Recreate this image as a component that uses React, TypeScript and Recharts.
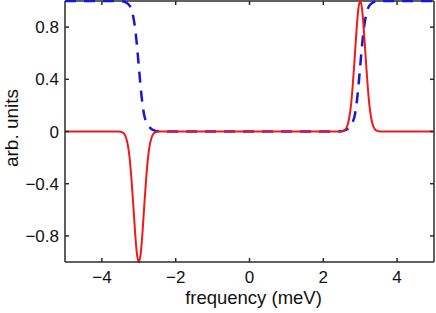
import React from 'react';
import { LineChart, Line, XAxis, YAxis, Label, ReferenceLine } from 'recharts';

const xValues = [
  -5, -4.5, -4, -3.7, -3.6, -3.55, -3.5, -3.45, -3.4, -3.35, -3.3, -3.25, -3.2, -3.15, -3.1, -3.05,
  -3, -2.95, -2.9, -2.85, -2.8, -2.75, -2.7, -2.65, -2.6, -2.55, -2.5, -2.45, -2.4, -2.3, -2, -1,
  0, 1, 2, 2.3, 2.4, 2.45, 2.5, 2.55, 2.6, 2.65, 2.7, 2.75, 2.8, 2.85, 2.9, 2.95,
  3, 3.05, 3.1, 3.15, 3.2, 3.25, 3.3, 3.35, 3.4, 3.45, 3.5, 3.55, 3.6, 3.7, 4, 4.5, 5,
];

const redValues = [
  0, 0, 0, 0, 0, 0, -0.002, -0.006, -0.017, -0.044, -0.1, -0.2, -0.36, -0.56, -0.775, -0.94,
  -1, -0.94, -0.775, -0.56, -0.36, -0.2, -0.1, -0.044, -0.017, -0.006, -0.002, 0, 0, 0, 0, 0,
  0, 0, 0, 0, 0, 0, 0.002, 0.006, 0.017, 0.044, 0.1, 0.2, 0.36, 0.56, 0.775, 0.94,
  1, 0.94, 0.775, 0.56, 0.36, 0.2, 0.1, 0.044, 0.017, 0.006, 0.002, 0, 0, 0, 0, 0, 0,
];

const blueValues = [
  1, 1, 1, 1, 1, 1, 1, 0.998, 0.995, 0.99, 0.98, 0.965, 0.935, 0.88, 0.79, 0.66,
  0.5, 0.34, 0.21, 0.12, 0.075, 0.045, 0.03, 0.018, 0.01, 0.005, 0.002, 0.001, 0, 0, 0, 0,
  0, 0, 0, 0, 0, 0.001, 0.002, 0.005, 0.01, 0.018, 0.03, 0.045, 0.075, 0.12, 0.21, 0.34,
  0.5, 0.66, 0.79, 0.88, 0.935, 0.965, 0.98, 0.99, 0.995, 0.998, 1, 1, 1, 1, 1, 1, 1,
];

const xTicks = [-4, -2, 0, 2, 4];
const yTicks = [-0.8, -0.4, 0, 0.4, 0.8];
const xDomain = [-5, 5];
const yDomain = [-1, 1];

const data = xValues.map((x, i) => ({ x, red: redValues[i], blue: blueValues[i] }));

const CHART_W = 436;
const CHART_H = 313;
const X_AXIS_H = 30;
const MARGIN = { top: 1, right: 2, bottom: 21, left: 5 };
const PLOT_TOP = MARGIN.top;
const PLOT_RIGHT = CHART_W - MARGIN.right;

const FONT = '"Liberation Sans", Arial, Helvetica, sans-serif';
const AXIS_COLOR = '#2b2b2b';
const TICK_LEN = 4;
const TICK_FONT = 17;

const fmt = (v: number) => {
  const s = String(Math.abs(v));
  return v < 0 ? '\u2212' + s : s;
};

const BottomTick = (p: any) => (
  <g>
    <line x1={p.x} x2={p.x} y1={p.y} y2={p.y - TICK_LEN} stroke={AXIS_COLOR} strokeWidth={1.5} />
    <line x1={p.x} x2={p.x} y1={PLOT_TOP} y2={PLOT_TOP + TICK_LEN} stroke={AXIS_COLOR} strokeWidth={1.5} />
    <text x={p.x} y={p.y + 21} textAnchor="middle" fontSize={TICK_FONT} fontFamily={FONT} fill="#111">
      {fmt(p.payload.value)}
    </text>
  </g>
);

const LeftTick = (p: any) => (
  <g>
    <line x1={p.x} x2={p.x + TICK_LEN} y1={p.y} y2={p.y} stroke={AXIS_COLOR} strokeWidth={1.5} />
    <line x1={PLOT_RIGHT} x2={PLOT_RIGHT - TICK_LEN} y1={p.y} y2={p.y} stroke={AXIS_COLOR} strokeWidth={1.5} />
    <text x={p.x - 6} y={p.y + 6} textAnchor="end" fontSize={TICK_FONT} fontFamily={FONT} fill="#111">
      {fmt(p.payload.value)}
    </text>
  </g>
);

const YLabel = (p: any) => {
  const vb = p.viewBox || { y: 0, height: 0 };
  const cy = vb.y + vb.height / 2 - 3.5;
  return (
    <text
      x={18}
      y={cy}
      transform={`rotate(-90, 18, ${cy})`}
      textAnchor="middle"
      fontSize={19}
      fontFamily={FONT}
      fill="#111"
    >
      arb. units
    </text>
  );
};

const XLabel = (p: any) => {
  const vb = p.viewBox || { x: 0, width: 0, y: 0 };
  const cx = vb.x + vb.width / 2 + 4;
  return (
    <text x={cx} y={304} textAnchor="middle" fontSize={18.5} fontFamily={FONT} fill="#111">
      frequency (meV)
    </text>
  );
};

export default function App() {
  return (
    <div style={{ position: 'absolute', left: 0, top: 0, width: CHART_W, height: CHART_H, background: '#fff' }}>
      <LineChart width={CHART_W} height={CHART_H} data={data} margin={MARGIN}>
        <XAxis
          dataKey="x"
          type="number"
          domain={xDomain}
          ticks={xTicks}
          height={X_AXIS_H}
          tickSize={0}
          tickMargin={0}
          tickLine={false}
          axisLine={{ stroke: AXIS_COLOR, strokeWidth: 1.5 }}
          tick={(p: any) => <BottomTick {...p} />}
          allowDataOverflow
        >
          <Label content={(p: any) => <XLabel {...p} />} />
        </XAxis>
        <YAxis
          type="number"
          domain={yDomain}
          ticks={yTicks}
          width={60}
          tickSize={0}
          tickMargin={0}
          tickLine={false}
          axisLine={{ stroke: AXIS_COLOR, strokeWidth: 1.5 }}
          tick={(p: any) => <LeftTick {...p} />}
        >
          <Label content={(p: any) => <YLabel {...p} />} />
        </YAxis>
        <ReferenceLine x={xDomain[1]} stroke={AXIS_COLOR} strokeWidth={1.5} ifOverflow="visible" />
        <ReferenceLine y={yDomain[1]} stroke={AXIS_COLOR} strokeWidth={1.5} ifOverflow="visible" />
        <Line
          dataKey="blue"
          type="monotone"
          stroke="#1616e0"
          strokeWidth={2.5}
          strokeDasharray="11 8"
          dot={false}
          activeDot={false}
          isAnimationActive={false}
        />
        <Line
          dataKey="red"
          type="monotone"
          stroke="#ee1a1a"
          strokeWidth={2}
          dot={false}
          activeDot={false}
          isAnimationActive={false}
        />
      </LineChart>
    </div>
  );
}
